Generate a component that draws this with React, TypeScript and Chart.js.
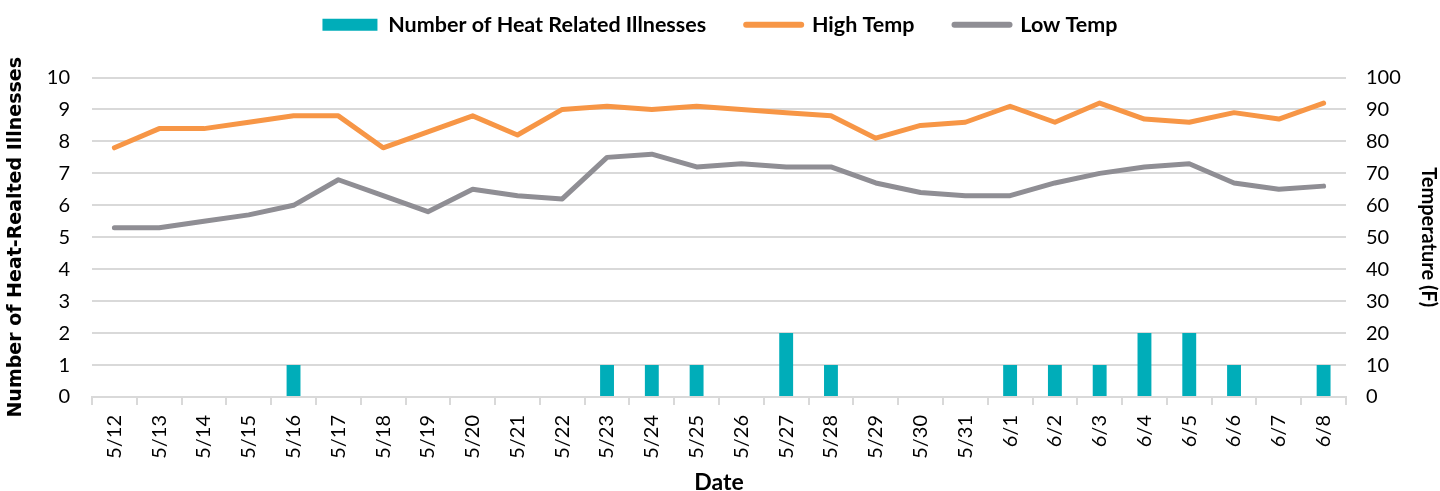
import React, { useEffect, useRef } from "react";
import { Chart, registerables } from "chart.js";

Chart.register(...registerables);

const dates = ["5/12","5/13","5/14","5/15","5/16","5/17","5/18","5/19","5/20","5/21","5/22","5/23","5/24","5/25","5/26","5/27","5/28","5/29","5/30","5/31","6/1","6/2","6/3","6/4","6/5","6/6","6/7","6/8"];
const illnesses = [0,0,0,0,1,0,0,0,0,0,0,1,1,1,0,2,1,0,0,0,1,1,1,2,2,1,0,1];
const highTemp = [78,84,84,86,88,88,78,83,88,82,90,91,90,91,90,89,88,81,85,86,91,86,92,87,86,89,87,92];
const lowTemp = [53,53,55,57,60,68,63,58,65,63,62,75,76,72,73,72,72,67,64,63,63,67,70,72,73,67,65,66];

const TEAL = "#00ADB9";
const ORANGE = "#F79646";
const GRAY = "#8F8E94";
const GRID = "#D9D9D9";

const legendSpacing = {
  id: "legendSpacing",
  beforeInit(chart: any) {
    const orig = chart.legend.fit;
    chart.legend.fit = function fit() {
      orig.bind(chart.legend)();
      this.height += 32;
    };
  },
};

export default function App() {
  const ref = useRef<HTMLCanvasElement | null>(null);
  useEffect(() => {
    document.body.style.margin = "0";
    if (!ref.current) return;
    const chart = new Chart(ref.current, {
      type: "bar",
      plugins: [legendSpacing],
      data: {
        labels: dates,
        datasets: [
          {
            type: "bar",
            label: "Number of Heat Related Illnesses",
            data: illnesses,
            backgroundColor: TEAL,
            borderWidth: 0,
            yAxisID: "y",
            barPercentage: 0.31,
            categoryPercentage: 1,
            order: 3,
          },
          {
            type: "line",
            label: "High Temp",
            data: highTemp,
            borderColor: ORANGE,
            backgroundColor: ORANGE,
            borderWidth: 5,
            pointRadius: 0,
            borderJoinStyle: "round",
            borderCapStyle: "round",
            tension: 0,
            yAxisID: "y1",
            order: 1,
          },
          {
            type: "line",
            label: "Low Temp",
            data: lowTemp,
            borderColor: GRAY,
            backgroundColor: GRAY,
            borderWidth: 5,
            pointRadius: 0,
            borderJoinStyle: "round",
            borderCapStyle: "round",
            tension: 0,
            yAxisID: "y1",
            order: 2,
          },
        ] as any,
      },
      options: {
        animation: false,
        responsive: false,
        maintainAspectRatio: false,
        layout: { padding: { top: -26, left: 0, right: 0, bottom: 0 } },
        plugins: {
          tooltip: { enabled: false },
          legend: {
            display: true,
            position: "top",
            labels: {
              color: "#000",
              font: { family: "Lato", size: 21.5, weight: "bold" },
              usePointStyle: true,
              pointStyleWidth: 55,
              boxHeight: 12,
              padding: 40,
              generateLabels: (c: any) =>
                c.data.datasets.map((ds: any, i: number) => ({
                  text: ds.label,
                  fillStyle: ds.type === "bar" ? TEAL : ds.borderColor,
                  strokeStyle: ds.type === "bar" ? TEAL : ds.borderColor,
                  lineWidth: ds.type === "bar" ? 0 : 6,
                  lineCap: "round",
                  pointStyle: ds.type === "bar" ? "rect" : "line",
                  hidden: false,
                  datasetIndex: i,
                  fontColor: "#000",
                })),
            },
          },
        },
        scales: {
          x: {
            afterFit: (s: any) => { s.height = 94; },
            grid: {
              offset: true,
              drawOnChartArea: false,
              drawTicks: true,
              tickLength: 8,
              color: GRID,
              lineWidth: 2,
            },
            border: { display: true, color: GRID, width: 2 },
            ticks: {
              color: "#000",
              font: { family: "Lato", size: 20 },
              minRotation: 90,
              maxRotation: 90,
              padding: 10,
              autoSkip: false,
            },
            title: {
              display: true,
              text: "Date",
              color: "#000",
              font: { family: "Lato", size: 23, weight: "bold" },
              padding: { top: -5, bottom: -5 },
            },
          },
          y: {
            position: "left",
            min: 0,
            max: 10,
            afterFit: (s: any) => { s.width = 92; },
            grid: { color: GRID, lineWidth: 2, drawTicks: false },
            border: { display: false },
            ticks: {
              stepSize: 1,
              color: "#000",
              font: { family: "Lato", size: 20 },
              padding: 22,
            },
            title: {
              display: true,
              text: "Number of Heat-Realted Illnesses",
              color: "#000",
              font: { family: "DejaVu Sans", size: 19, weight: "bold" },
              padding: { top: 5, bottom: 0 },
            },
          },
          y1: {
            position: "right",
            min: 0,
            max: 100,
            afterFit: (s: any) => { s.width = 94; },
            grid: { drawOnChartArea: false, drawTicks: false },
            border: { display: false },
            ticks: {
              stepSize: 10,
              color: "#000",
              font: { family: "Lato", size: 20 },
              padding: 20,
            },
            title: {
              display: true,
              text: "Temperature (F)",
              color: "#000",
              font: { family: "Lato", size: 20, weight: "bold" },
              padding: { top: 0, bottom: 0 },
            },
          },
        },
      } as any,
    });
    return () => chart.destroy();
  }, []);
  return (
    <div style={{ width: 1440, height: 491 }}>
      <canvas ref={ref} width={1440} height={491} style={{ display: "block" }} />
    </div>
  );
}
